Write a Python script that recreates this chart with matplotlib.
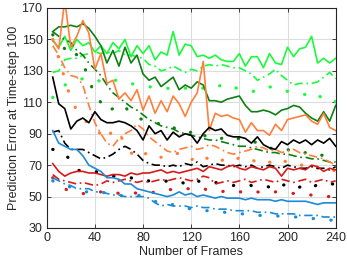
import numpy as np
import matplotlib
matplotlib.use("Agg")
import matplotlib.pyplot as plt

plt.rcParams['font.family'] = ['Liberation Sans', 'DejaVu Sans']

frames = list(range(5, 241, 5))

lime_solid = [149,145,152,143,150,146,148,142,146,141,148,144,150,139,146,141,146,137,142,140,
              155,140,147,146,139,140,138,140,137,136,136,141,133,139,139,132,141,135,134,145,
              139,144,145,152,135,138,135,138]
lime_dashdot = [129,130,137,138,138,140,141,142,141,142,141,143,140,140,139,138,134,133,130,131,
                133,131,129,131,130,133,134,133,134,133,132,132,130,128,124,126,128,131,127,124,
                121,122,122,122,123,126,129,125]
lime_dotted = [113,118,121,122,124,125,126,125,123,122,124,124,122,122,121,120,120,119,119,119,
               118,119,119,118,118,119,120,119,121,122,120,118,118,117,117,118,120,118,117,117,
               116,115,115,112,114,113,114,110]
dgreen_solid = [155,158,158,159,158,160,157,152,146,135,143,133,145,135,140,128,124,126,120,123,
                126,118,121,119,123,121,111,111,110,112,113,114,108,104,104,105,104,102,105,106,
                108,107,103,100,98,104,98,108]
dgreen_dashdot = [155,152,150,148,143,140,135,131,127,121,116,113,110,107,105,102,99,97,95,94,
                  93,91,90,89,88,87,86,86,85,84,83,82,82,81,80,79,78,78,77,77,
                  76,75,75,74,74,73,72,72]
dgreen_dotted = [153,148,144,146,140,135,125,114,110,104,106,104,107,103,100,99,98,97,96,97,
                 94,92,90,91,93,89,88,89,87,88,86,87,85,84,85,82,81,80,79,80,
                 78,77,78,76,77,76,79,82]
orange_solid = [150,144,175,145,152,162,154,131,141,122,124,112,116,111,118,105,114,103,111,104,
                114,109,101,110,116,136,92,103,101,102,100,99,91,97,92,92,89,96,92,99,
                100,101,102,98,96,103,94,92]
orange_dashdot = [146,140,132,127,126,121,108,97,90,84,82,87,90,92,96,93,88,85,82,79,
                  78,80,81,82,80,81,83,82,80,78,77,78,79,80,82,81,79,80,78,79,
                  80,78,77,76,75,74,72,70]
orange_dotted = [150,138,125,112,105,100,96,92,90,86,93,90,84,78,74,76,79,77,75,74,
                 76,78,75,73,77,75,74,76,73,74,72,75,73,74,71,73,72,70,73,72,
                 70,71,68,69,68,70,68,66]
black_solid = [126,109,106,93,98,100,97,104,99,97,97,98,97,95,92,86,95,90,92,86,
               91,88,90,89,84,90,94,92,93,89,88,88,87,84,88,83,81,80,85,83,
               86,84,86,83,86,84,87,82]
black_dashdot = [91,92,84,80,80,80,78,76,74,75,77,80,82,80,77,73,71,70,70,69,
                 70,69,71,70,72,69,70,71,70,70,69,70,69,70,68,69,70,69,68,70,
                 69,68,68,69,68,68,67,69]
black_dotted = [80,80,77,73,67,66,65,66,65,64,63,63,63,62,60,60,60,60,59,60,
                59,60,58,57,60,59,58,59,58,58,57,58,58,57,58,57,56,59,57,58,
                59,56,57,55,58,57,58,58]
red_solid = [71,66,63,65,66,66,65,65,64,63,64,64,63,65,64,65,65,66,67,65,
             66,65,66,67,68,66,69,68,67,69,70,68,67,69,68,67,69,68,63,68,
             67,68,67,70,69,66,68,67]
red_dashdot = [64,61,60,59,58,59,58,57,58,60,59,60,61,60,59,60,59,60,61,60,
               61,62,61,60,61,63,62,58,59,60,59,60,61,59,60,61,60,59,61,60,
               59,60,61,59,60,61,59,60]
red_dotted = [62,58,55,53,52,52,51,52,53,52,53,52,52,53,52,52,52,53,54,55,
              54,54,55,55,54,55,54,54,53,54,53,53,53,52,53,52,52,53,52,52,
              52,51,51,51,51,50,50,50]
blue_solid = [92,84,82,80,80,76,70,68,66,62,62,61,58,58,55,54,53,52,51,50,
              51,53,51,52,50,51,50,49,50,49,49,49,48,49,48,48,48,47,48,47,
              47,47,47,46,45,46,46,46]
blue_dashdot = [62,60,58,57,55,55,55,53,53,52,51,51,50,50,50,50,49,46,44,45,
                44,44,44,43,44,43,43,42,42,42,41,41,41,41,40,40,40,39,39,39,
                39,38,38,38,38,37,37,37]
blue_dotted = [60,58,57,56,54,53,53,54,53,52,51,51,50,50,51,50,48,47,45,44,
               45,43,43,42,42,41,41,41,40,40,40,39,39,39,38,38,38,38,37,37,
               37,37,36,36,36,36,35,35]

x_ticks = [0, 40, 80, 120, 160, 200, 240]
y_ticks = [30, 50, 70, 90, 110, 130, 150, 170]

LIME = '#1AFA3C'
DGREEN = '#0E7F12'
ORANGE = '#FF7F3A'
BLACK = '#000000'
RED = '#D71A1A'
BLUE = '#1C8AD6'

SOLID = '-'
DASHDOT = (0, (5, 2.2, 1, 2.2))
DOTTED = (0, (0.1, 5.5))

series = [
    (lime_solid, LIME, SOLID), (lime_dashdot, LIME, DASHDOT), (lime_dotted, LIME, DOTTED),
    (dgreen_solid, DGREEN, SOLID), (dgreen_dashdot, DGREEN, DASHDOT), (dgreen_dotted, DGREEN, DOTTED),
    (orange_solid, ORANGE, SOLID), (orange_dashdot, ORANGE, DASHDOT), (orange_dotted, ORANGE, DOTTED),
    (black_solid, BLACK, SOLID), (black_dashdot, BLACK, DASHDOT), (black_dotted, BLACK, DOTTED),
    (red_solid, RED, SOLID), (red_dashdot, RED, DASHDOT), (red_dotted, RED, DOTTED),
    (blue_solid, BLUE, SOLID), (blue_dashdot, BLUE, DASHDOT), (blue_dotted, BLUE, DOTTED),
]

fig = plt.figure(figsize=(3.47, 2.63), dpi=100)
ax = fig.add_axes([0.1346, 0.1331, 0.8328, 0.8365])

for vals, col, ls in series:
    if ls == DOTTED:
        ax.plot(frames, vals, color=col, linestyle=ls, linewidth=2.3,
                dash_capstyle='round', solid_capstyle='round')
    else:
        ax.plot(frames, vals, color=col, linestyle=ls, linewidth=1.2)

ax.set_xlim(0, 240)
ax.set_ylim(30, 170)
ax.set_xticks(x_ticks)
ax.set_yticks(y_ticks)
ax.grid(True, color='#DDDDDD', linewidth=0.8)
ax.set_axisbelow(True)
ax.tick_params(direction='in', length=3, width=0.6, labelsize=9, top=True, right=True,
               colors='#262626', pad=3)
for sp in ax.spines.values():
    sp.set_linewidth(0.8)
    sp.set_color('#262626')
ax.set_xlabel('Number of Frames', fontsize=9, color='#262626', labelpad=1)
ax.set_ylabel('Prediction Error at Time-step 100', fontsize=9, color='#262626', labelpad=1)

fig.savefig('out.png', dpi=100)
